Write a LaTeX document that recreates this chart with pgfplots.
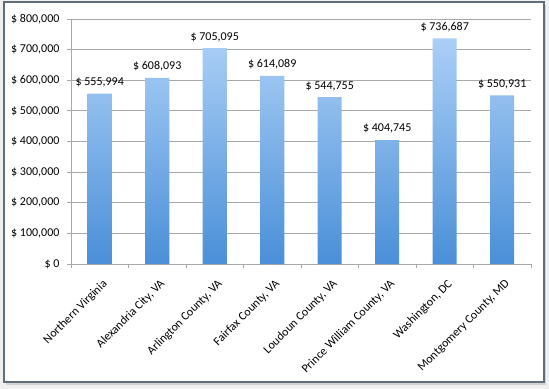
\documentclass[border=0pt]{standalone}
\usepackage{pgfplots}
\pgfplotsset{compat=1.18}
\usepackage{fontspec}
\setmainfont{Carlito}
\definecolor{bartop}{HTML}{ABCFF6}
\definecolor{barbot}{HTML}{4A8FD8}
\definecolor{framec}{HTML}{5E6E7A}
\definecolor{gridc}{HTML}{A8A8A8}
\begin{document}
\begin{tikzpicture}
\fill[gray!12] (0,0) rectangle (549bp,389bp);
\useasboundingbox (0,0) rectangle (549bp,389bp);
\fill[gray!35] (6bp,4bp) rectangle (546bp,384bp);
\fill[white] (4bp,7bp) rectangle (544bp,387bp);
\draw[framec, line width=1.6bp] (4bp,7bp) rectangle (544bp,387bp);
\begin{axis}[
  at={(71bp,125bp)}, anchor=south west,
  scale only axis, width=460bp, height=245bp,
  xmin=-0.5, xmax=7.5, ymin=0, ymax=800000,
  scaled y ticks=false,
  axis x line*=bottom, axis y line*=left,
  axis line style={gridc, line width=0.8bp},
  ybar, bar width=24bp,
  xtick={0,...,7},
  major x tick style={draw=none},
  minor xtick={-0.5,0.5,...,7.5},
  minor x tick style={gridc, line width=0.8bp},
  minor tick length=4bp,
  xtick align=outside,
  xticklabels={Northern Virginia, {Alexandria City, VA}, {Arlington County, VA}, {Fairfax County, VA}, {Loudoun County, VA}, {Prince William County, VA}, {Washington, DC}, {Montgomery County, MD}},
  xticklabel style={anchor=north east, font=\fontsize{12bp}{14bp}\selectfont, inner sep=1bp, xshift=2bp, yshift=-9bp, rotate=45},
  ytick={0,100000,...,800000},
  yticklabels={{\$ 0},{\$ 100,000},{\$ 200,000},{\$ 300,000},{\$ 400,000},{\$ 500,000},{\$ 600,000},{\$ 700,000},{\$ 800,000}},
  yticklabel style={font=\fontsize{12bp}{14bp}\selectfont, xshift=-4bp},
  ytick align=outside, major tick length=4bp,
  ytick style={gridc, line width=0.8bp},
  ymajorgrids, grid style={gridc, line width=0.9bp},
  point meta=explicit symbolic,
  nodes near coords,
  nodes near coords style={font=\fontsize{12bp}{14bp}\selectfont, text=black, yshift=3bp},
  clip=false,
]
\addplot[draw=none, shade, top color=bartop, bottom color=barbot] coordinates {
  (0,555994) [\$ 555,994]
  (1,608093) [\$ 608,093]
  (2,705095) [\$ 705,095]
  (3,614089) [\$ 614,089]
  (4,544755) [\$ 544,755]
  (5,404745) [\$ 404,745]
  (6,736687) [\$ 736,687]
  (7,550931) [\$ 550,931]
};
\end{axis}
\end{tikzpicture}
\end{document}
